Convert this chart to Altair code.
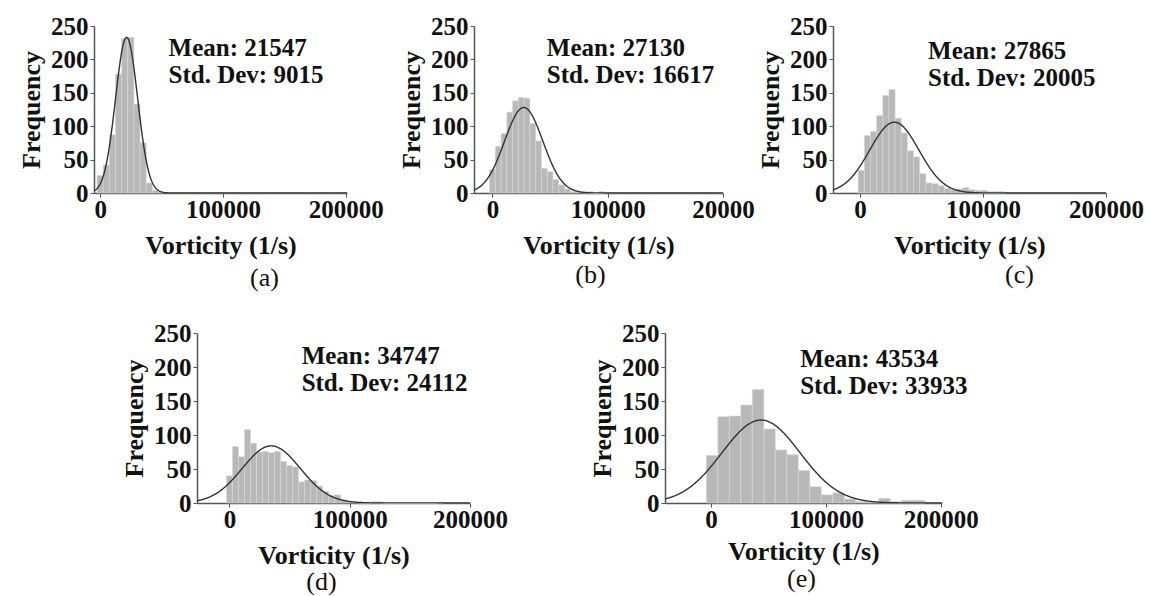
import altair as alt
import pandas as pd

# ---------------- data ----------------
panel_labels = ["(a)", "(b)", "(c)", "(d)", "(e)"]
means = [21547, 27130, 27865, 34747, 43534]
std_devs = [9015, 16617, 20005, 24112, 33933]
curve_peaks = [233, 128, 106, 84, 122]          # height of the fitted normal curve
bin_starts = [-2500, -2500, -1500, -2500, -4000]
bin_widths = [5000, 5000, 5000, 5000, 10000]

counts_a = [26, 42, 87, 178, 231, 233, 133, 75, 15, 4, 1]
counts_b = [35, 70, 89, 121, 138, 143, 142, 104, 78, 37, 32, 20, 12, 6, 2, 1, 1, 2, 0, 2]
counts_c = [34, 86, 92, 116, 146, 155, 112, 90, 63, 54, 29, 15, 14, 11, 7, 5, 6, 8,
            5, 4, 4, 2, 2, 2]
counts_d = [40, 83, 68, 108, 88, 75, 76, 74, 76, 61, 55, 53, 31, 34, 33, 25, 17, 11,
            12, 5, 1, 1, 0, 0, 2, 2, 0, 0, 0, 0, 0, 0, 0, 0, 0, 1]
counts_e = [70, 127, 128, 144, 167, 109, 78, 71, 48, 24, 12, 15, 6, 2, 1, 7, 2, 4, 4]
all_counts = [counts_a, counts_b, counts_c, counts_d, counts_e]

x_domains = [[-5000, 201000], [-16000, 200000], [-22000, 200000],
             [-27000, 200000], [-40000, 201000]]
x_tick_values = [0, 100000, 200000]
y_tick_values = [0, 50, 100, 150, 200, 250]
last_x_label = ["200000", "20000", "200000", "200000", "200000"]

# ---------------- layout / style ----------------
widths = [253, 249, 273, 273, 277]
row_heights = [167, 170]
row2_top_offset = 307          # distance between the tops of the two rows
ann_pos = [(55700, 205), (47200, 205), (55300, 200), (60000, 204), (77600, 200)]
label_dx = [44, -8, 50, -12, -2]
label_offset = [7, 4, 4, 1, 2]
x_title_pad = [10, 10, 10, 10, 6]
gaps_row1 = [127, 110]
lead_row2 = 103
gap_row2 = 195

SERIF = "Liberation Serif"
INK = "#111111"
AXIS_COL = "#555555"


def make_panel(i, height):
    counts = all_counts[i]
    start, w = bin_starts[i], bin_widths[i]
    df = pd.DataFrame({
        "x0": [start + k * w for k in range(len(counts))],
        "x1": [start + (k + 1) * w for k in range(len(counts))],
        "count": counts,
    })
    xscale = alt.Scale(domain=x_domains[i], nice=False, zero=False)
    yscale = alt.Scale(domain=[0, 250], nice=False)
    xaxis = alt.Axis(
        values=x_tick_values, format="d", title="Vorticity (1/s)",
        labelExpr=f"datum.value == 200000 ? '{last_x_label[i]}' : datum.label",
        labelFlush=False, labelOverlap=False, labelBound=False, grid=False,
        labelFont=SERIF, labelFontSize=25, labelFontWeight="bold", labelColor=INK,
        labelPadding=0, tickSize=4, tickColor=AXIS_COL, domainColor=AXIS_COL,
        domainWidth=1.5, titleFont=SERIF, titleFontSize=26, titleFontWeight="bold",
        titleColor=INK, titlePadding=x_title_pad[i],
    )
    yaxis = alt.Axis(
        values=y_tick_values, format="d", title="Frequency", grid=False,
        labelFlush=False, labelOverlap=False,
        labelFont=SERIF, labelFontSize=25, labelFontWeight="bold", labelColor=INK,
        labelPadding=2, tickSize=4, tickColor=AXIS_COL, domainColor=AXIS_COL,
        domainWidth=1.5, titleFont=SERIF, titleFontSize=26, titleFontWeight="bold",
        titleColor=INK, titlePadding=6,
    )
    bars = alt.Chart(df).mark_bar(
        color="#b8b8b8", stroke="#d6d6d6", strokeWidth=0.6
    ).encode(
        x=alt.X("x0:Q", scale=xscale, axis=xaxis),
        x2="x1:Q",
        y=alt.Y("count:Q", scale=yscale, axis=yaxis),
        y2=alt.datum(0),
    )
    m, sd, pk = means[i], std_devs[i], curve_peaks[i]
    curve = alt.Chart(
        alt.sequence(x_domains[i][0], x_domains[i][1] + 1, 400, as_="x")
    ).transform_calculate(
        f=f"{pk} * exp(-0.5 * pow((datum.x - {m}) / {sd}, 2))"
    ).mark_line(color="#333333", strokeWidth=1.4, clip=True).encode(
        x=alt.X("x:Q", scale=xscale, axis=xaxis),
        y=alt.Y("f:Q", scale=yscale, axis=yaxis),
    )
    ax, ay = ann_pos[i]
    ann = alt.Chart(pd.DataFrame({"x": [ax], "y": [ay]})).mark_text(
        text=[f"Mean: {m}", f"Std. Dev: {sd}"], align="left", baseline="alphabetic",
        font=SERIF, fontSize=25, fontWeight="bold", color=INK, lineHeight=27,
    ).encode(
        x=alt.X("x:Q", scale=xscale, axis=xaxis),
        y=alt.Y("y:Q", scale=yscale, axis=yaxis),
    )
    return alt.layer(bars, curve, ann).properties(
        width=widths[i], height=height,
        title=alt.TitleParams(
            text=panel_labels[i], orient="bottom", anchor="middle", font=SERIF,
            fontSize=26, fontWeight="normal", color=INK,
            offset=label_offset[i], dx=label_dx[i],
        ),
    )


def spacer(w, h):
    return alt.Chart(pd.DataFrame({"v": [0]})).mark_point(opacity=0).encode(
        x=alt.value(0), y=alt.value(0)
    ).properties(width=w, height=h)


h1, h2 = row_heights
row1 = alt.hconcat(
    make_panel(0, h1), spacer(gaps_row1[0], h1), make_panel(1, h1),
    spacer(gaps_row1[1], h1), make_panel(2, h1),
    spacing=0, bounds="flush",
)
row2 = alt.hconcat(
    spacer(lead_row2, h2), make_panel(3, h2), spacer(gap_row2, h2), make_panel(4, h2),
    spacing=0, bounds="flush",
)

chart = alt.vconcat(
    row1, row2, spacing=row2_top_offset, bounds="flush",
).properties(
    padding={"left": 18, "top": 14, "right": 0, "bottom": 0},
    background="white",
).configure_view(stroke=None)

chart.save("out.html", embed_options={"renderer": "svg", "actions": False})
